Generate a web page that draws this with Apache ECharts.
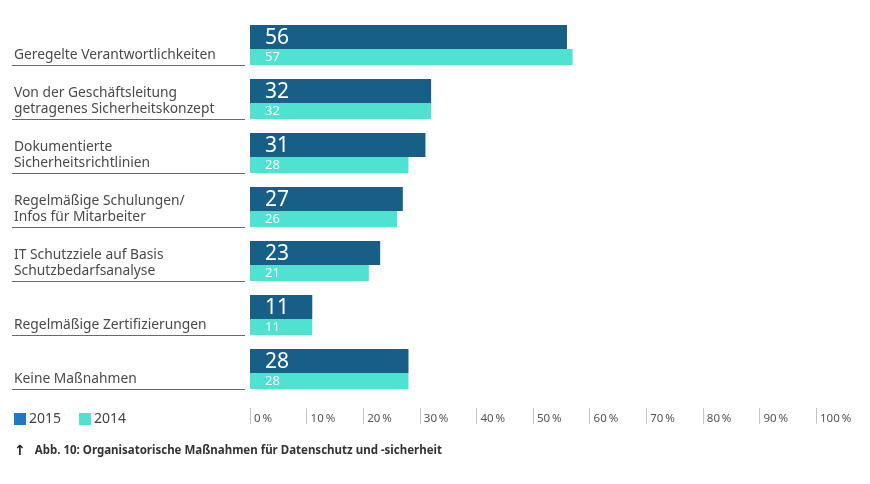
<!DOCTYPE html>
<html>
<head>
<meta charset="utf-8">
<script src="https://cdn.jsdelivr.net/npm/echarts@6/dist/echarts.min.js"></script>
<style>html,body{margin:0;padding:0;background:#fff;}#c{width:870px;height:484px;}</style>
</head>
<body>
<div id="c"></div>
<script>
const categories = [
  'Geregelte Verantwortlichkeiten',
  'Von der Geschäftsleitung\ngetragenes Sicherheitskonzept',
  'Dokumentierte\nSicherheitsrichtlinien',
  'Regelmäßige Schulungen/\nInfos für Mitarbeiter',
  'IT Schutzziele auf Basis\nSchutzbedarfsanalyse',
  'Regelmäßige Zertifizierungen',
  'Keine Maßnahmen'
];
const values2015 = [56, 32, 31, 27, 23, 11, 28];
const values2014 = [57, 32, 28, 26, 21, 11, 28];
const xTicks = [0, 10, 20, 30, 40, 50, 60, 70, 80, 90, 100];
const captionArrow = '\u2191';
const caption = 'Abb. 10: Organisatorische Maßnahmen für Datenschutz und -sicherheit';

const FONT = '"Noto Sans", "Open Sans", sans-serif';
const chart = echarts.init(document.getElementById('c'));

chart.setOption({
  animation: false,
  title: {
    text: '{a|' + captionArrow + '}' + caption,
    left: 14, top: 444, padding: 0,
    textStyle: { fontFamily: FONT, fontSize: 11.5, fontWeight: 'bold', color: '#333',
      rich: { a: { fontFamily: '"DejaVu Sans", sans-serif', fontSize: 14, fontWeight: 'bold',
        color: '#222', padding: [0, 9, 0, 0] } } }
  },
  legend: {
    data: [
      { name: '2015', itemStyle: { color: '#1f77c6' } },
      { name: '2014', itemStyle: { color: '#4fe2d1' } }
    ],
    left: 14, top: 412, padding: 0,
    icon: 'rect', itemWidth: 12, itemHeight: 12, itemGap: 18,
    textStyle: { fontFamily: FONT, fontSize: 14, color: '#444', padding: [0, 0, 0, -2] },
    selectedMode: false
  },
  grid: { left: 250, right: 54, top: 11, height: 378, outerBoundsMode: 'none', containLabel: false },
  xAxis: {
    type: 'value', min: xTicks[0], max: xTicks[xTicks.length - 1], interval: 10,
    offset: 19,
    axisLine: { show: false },
    splitLine: { show: false },
    axisTick: { show: true, length: 16, lineStyle: { color: '#c4c4c4', width: 1 } },
    axisLabel: {
      formatter: v => v + '\u2009%',
      align: 'left', verticalAlign: 'middle', margin: 11,
      padding: [0, 0, 0, 4],
      fontFamily: FONT, fontSize: 11.5, color: '#555'
    }
  },
  yAxis: {
    type: 'category', data: categories, inverse: true,
    axisLine: { show: false }, axisTick: { show: false }, axisLabel: { show: false }
  },
  series: [
    {
      name: 'spacer', type: 'bar', barWidth: 14, barGap: '0%', silent: true,
      data: categories.map(() => 0), itemStyle: { color: 'rgba(0,0,0,0)' }
    },
    {
      name: '2015', type: 'bar', barWidth: 24, barGap: '0%',
      data: values2015, itemStyle: { color: '#175f86' },
      label: { show: true, position: 'insideLeft', distance: 15, color: '#fff',
        fontFamily: FONT, fontSize: 21, offset: [0, 1] }
    },
    {
      name: '2014', type: 'bar', barWidth: 16, barGap: '0%',
      data: values2014, itemStyle: { color: '#4fe2d1' },
      label: { show: true, position: 'insideLeft', distance: 15, color: '#fff',
        fontFamily: FONT, fontSize: 13 }
    },
    {
      name: 'catLabels', type: 'custom', silent: true, clip: false, z: 5,
      data: categories.map((c, i) => [0, i]),
      encode: { x: 0, y: 1 },
      renderItem: function (params, api) {
        const idx = api.value(1);
        const c = api.coord([0, idx]);
        const h = api.size([0, 1])[1];
        const yb = Math.round(c[1] + h / 2) + 0.5;
        return {
          type: 'group',
          children: [
            { type: 'line', shape: { x1: c[0] - 238, y1: yb, x2: c[0] - 5, y2: yb },
              style: { stroke: '#6a6a6a', lineWidth: 1 } },
            { type: 'text', style: { text: categories[idx], x: c[0] - 236, y: yb - 2,
              align: 'left', verticalAlign: 'bottom', fill: '#4a4a4a',
              font: '13.8px ' + FONT, lineHeight: 16 } }
          ]
        };
      }
    }
  ]
});
</script>
</body>
</html>
